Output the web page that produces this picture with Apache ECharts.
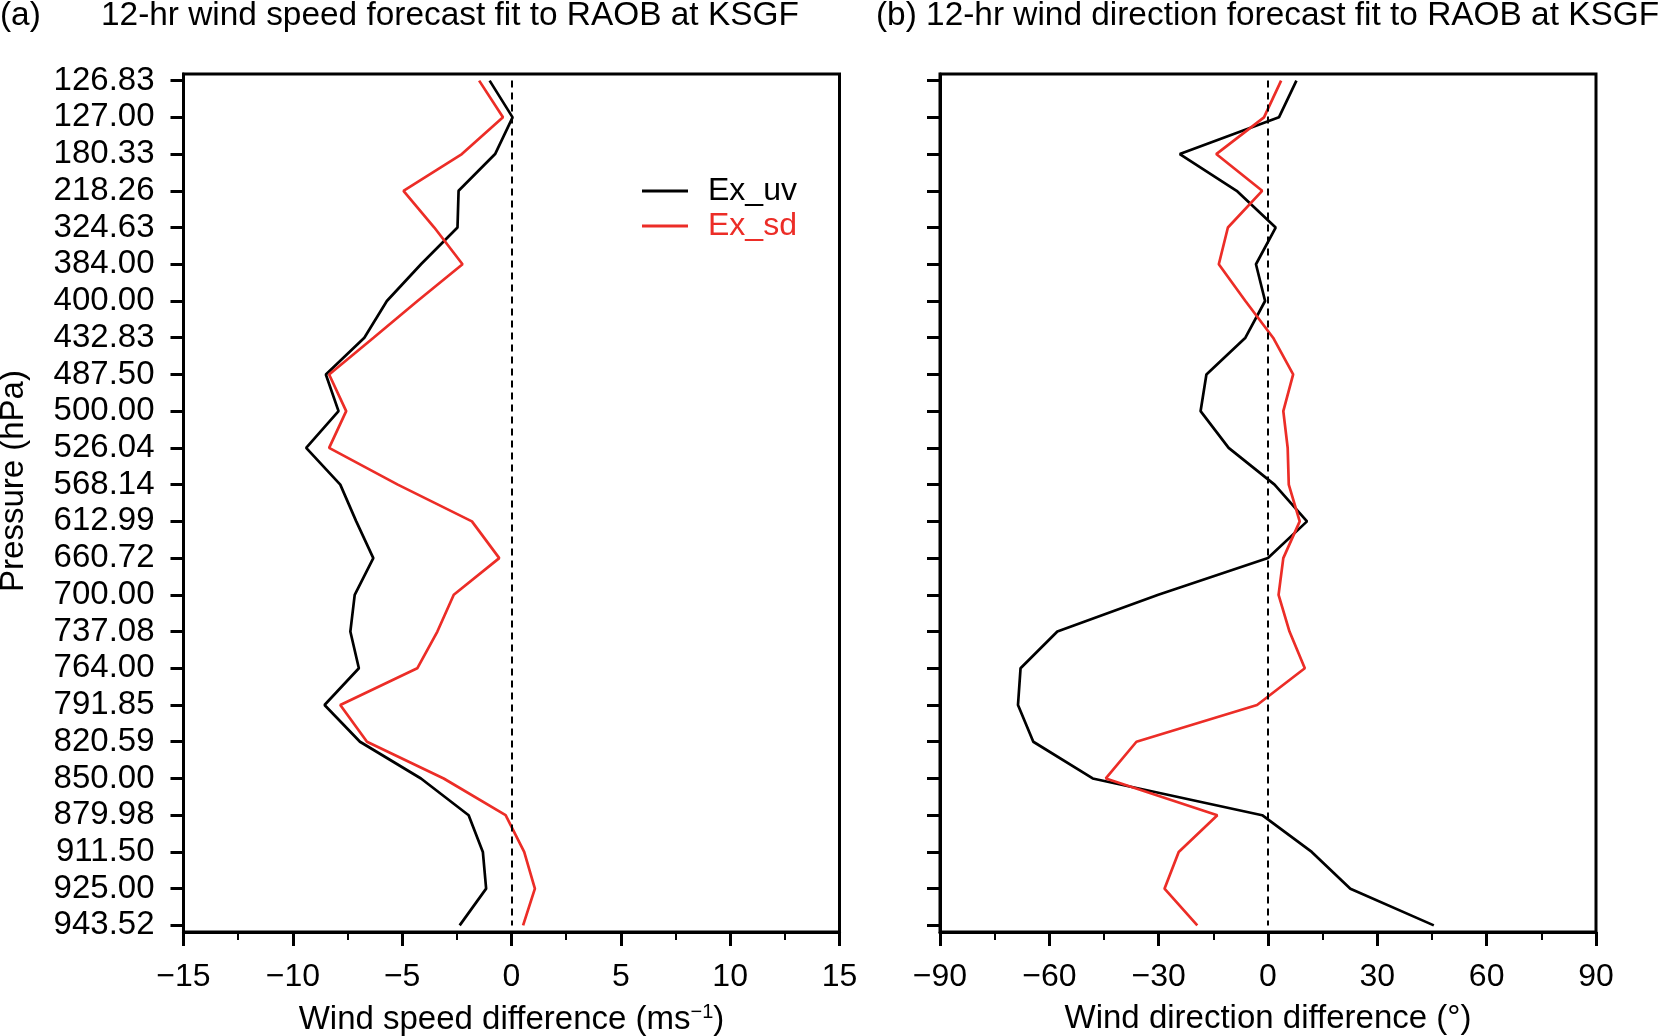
<!DOCTYPE html>
<html>
<head>
<meta charset="utf-8">
<script src="https://cdn.jsdelivr.net/npm/echarts@6/dist/echarts.min.js"></script>
<style>
html,body{margin:0;padding:0;background:#fff;}
#chart{width:1658px;height:1036px;}
</style>
</head>
<body>
<div id="chart"></div>
<script>
// ---- data ----
const pressureLabels = ['126.83','127.00','180.33','218.26','324.63','384.00','400.00','432.83','487.50','500.00','526.04','568.14','612.99','660.72','700.00','737.08','764.00','791.85','820.59','850.00','879.98','911.50','925.00','943.52'];
const speedUv = [-1.0, 0.05, -0.75, -2.42, -2.47, -4.14, -5.7, -6.73, -8.49, -7.91, -9.39, -7.83, -7.1, -6.32, -7.17, -7.37, -6.98, -8.55, -6.93, -4.14, -1.96, -1.31, -1.16, -2.37];
const speedSd = [-1.48, -0.39, -2.27, -4.94, -3.53, -2.24, -4.3, -6.31, -8.34, -7.56, -8.34, -5.2, -1.81, -0.56, -2.64, -3.39, -4.31, -7.83, -6.61, -3.1, -0.27, 0.58, 1.07, 0.53];
const dirUv = [7.8, 3.0, -24.2, -8.6, 2.1, -3.3, -0.8, -6.2, -16.9, -18.5, -10.8, 1.8, 10.7, 0, -30.1, -57.8, -67.9, -68.6, -64.4, -48.1, -1.6, 12.0, 22.6, 45.5];
const dirSd = [3.6, -1.1, -14.2, -1.6, -11.0, -13.5, -6.2, 1.4, 6.9, 4.2, 5.4, 5.7, 8.7, 4.2, 2.9, 5.9, 10.1, -3.0, -36.1, -44.5, -13.9, -24.5, -28.4, -19.4];
const seriesNames = ['Ex_uv', 'Ex_sd'];
const speedTicks = {min: -15, max: 15, interval: 5};
const dirTicks = {min: -90, max: 90, interval: 30};
const titles = ['(a)', '12-hr wind speed forecast fit to RAOB at KSGF', '(b) 12-hr wind direction forecast fit to RAOB at KSGF'];
const xNames = ['Wind speed difference (ms{sup|\u22121})', 'Wind direction difference (\u00b0)'];
const yName = 'Pressure (hPa)';

// ---- style ----
const FONT = '"Liberation Sans", Arial, Helvetica, sans-serif';
const RED = '#ec2d27';
const BLACK = '#000000';
const idx = pressureLabels.map((_, i) => i);
const minusFmt = v => (v < 0 ? '\u2212' + Math.abs(v) : String(v));

function xAxisCfg(gridIndex, t, name) {
  return {
    type: 'value', gridIndex: gridIndex,
    min: t.min, max: t.max, interval: t.interval,
    splitLine: {show: false},
    axisLine: {show: true, onZero: false, lineStyle: {color: BLACK, width: 3}},
    axisTick: {show: true, length: 14, lineStyle: {color: BLACK, width: 3}},
    minorTick: {show: true, splitNumber: 2, length: 8, lineStyle: {color: BLACK, width: 2}},
    axisLabel: {formatter: minusFmt, fontSize: 32, fontFamily: FONT, color: BLACK, margin: 29},
    name: name, nameLocation: 'middle', nameGap: 70,
    nameTextStyle: {fontSize: 33, fontFamily: FONT, color: BLACK,
      rich: {sup: {fontSize: 20, fontFamily: FONT, color: BLACK, verticalAlign: 'top', padding: [0, 0, 16, 0]}}}
  };
}
function yAxisCfg(gridIndex, showLabel) {
  return {
    type: 'value', gridIndex: gridIndex, inverse: true,
    min: -0.18, max: 23.18,
    splitLine: {show: false},
    axisLine: {show: true, onZero: false, lineStyle: {color: BLACK, width: 3}},
    axisTick: {show: true, length: 13, customValues: idx, lineStyle: {color: BLACK, width: 3}},
    axisLabel: {show: showLabel, customValues: idx, formatter: v => pressureLabels[v],
      fontSize: 33, fontFamily: FONT, color: BLACK, margin: 29}
  };
}
function lineSeries(name, values, color, axisIndex, withZero) {
  const s = {
    name: name, type: 'line', xAxisIndex: axisIndex, yAxisIndex: axisIndex,
    data: values.map((v, i) => [v, i]),
    showSymbol: false, symbol: 'none', color: color,
    itemStyle: {color: color},
    lineStyle: {color: color, width: 2.7},
    silent: true, animation: false
  };
  if (withZero) {
    s.markLine = {
      silent: true, symbol: 'none', label: {show: false}, animation: false,
      lineStyle: {color: BLACK, width: 2, type: [7, 5]},
      data: [[{coord: [0, 0]}, {coord: [0, pressureLabels.length - 1]}]]
    };
  }
  return s;
}

const chart = echarts.init(document.getElementById('chart'), null, {renderer: 'canvas'});
const titleStyle = {fontSize: 33.4, fontWeight: 'normal', fontFamily: FONT, color: BLACK};
chart.setOption({
  backgroundColor: '#ffffff',
  animation: false,
  title: [
    {text: titles[0], left: 0, top: -1, padding: 0, textStyle: titleStyle},
    {text: titles[1], left: 101, top: -1, padding: 0, textStyle: titleStyle},
    {text: titles[2], left: 876, top: -1, padding: 0, textStyle: titleStyle}
  ],
  legend: {
    orient: 'vertical', left: 642, top: 175, padding: 0,
    itemWidth: 46, itemHeight: 3, itemGap: 3, icon: 'rect',
    selectedMode: false,
    textStyle: {fontSize: 32, fontFamily: FONT, padding: [0, 0, 0, 15]},
    data: [
      {name: seriesNames[0], textStyle: {color: BLACK}},
      {name: seriesNames[1], textStyle: {color: RED}}
    ]
  },
  grid: [
    {left: 183.5, top: 74, width: 656, height: 858, show: true, borderColor: BLACK, borderWidth: 3, backgroundColor: 'transparent', containLabel: false, outerBoundsMode: 'none'},
    {left: 940, top: 74, width: 656, height: 858, show: true, borderColor: BLACK, borderWidth: 3, backgroundColor: 'transparent', containLabel: false, outerBoundsMode: 'none'}
  ],
  xAxis: [xAxisCfg(0, speedTicks, xNames[0]), xAxisCfg(1, dirTicks, xNames[1])],
  yAxis: [yAxisCfg(0, true), yAxisCfg(1, false)],
  graphic: [{
    type: 'text', x: 14, y: 481, rotation: Math.PI / 2, silent: true,
    style: {text: yName, fontSize: 33, fontFamily: FONT, fill: BLACK, align: 'center', verticalAlign: 'middle'}
  }],
  series: [
    lineSeries(seriesNames[0], speedUv, BLACK, 0, true),
    lineSeries(seriesNames[1], speedSd, RED, 0, false),
    lineSeries(seriesNames[0], dirUv, BLACK, 1, true),
    lineSeries(seriesNames[1], dirSd, RED, 1, false)
  ]
});
</script>
</body>
</html>
